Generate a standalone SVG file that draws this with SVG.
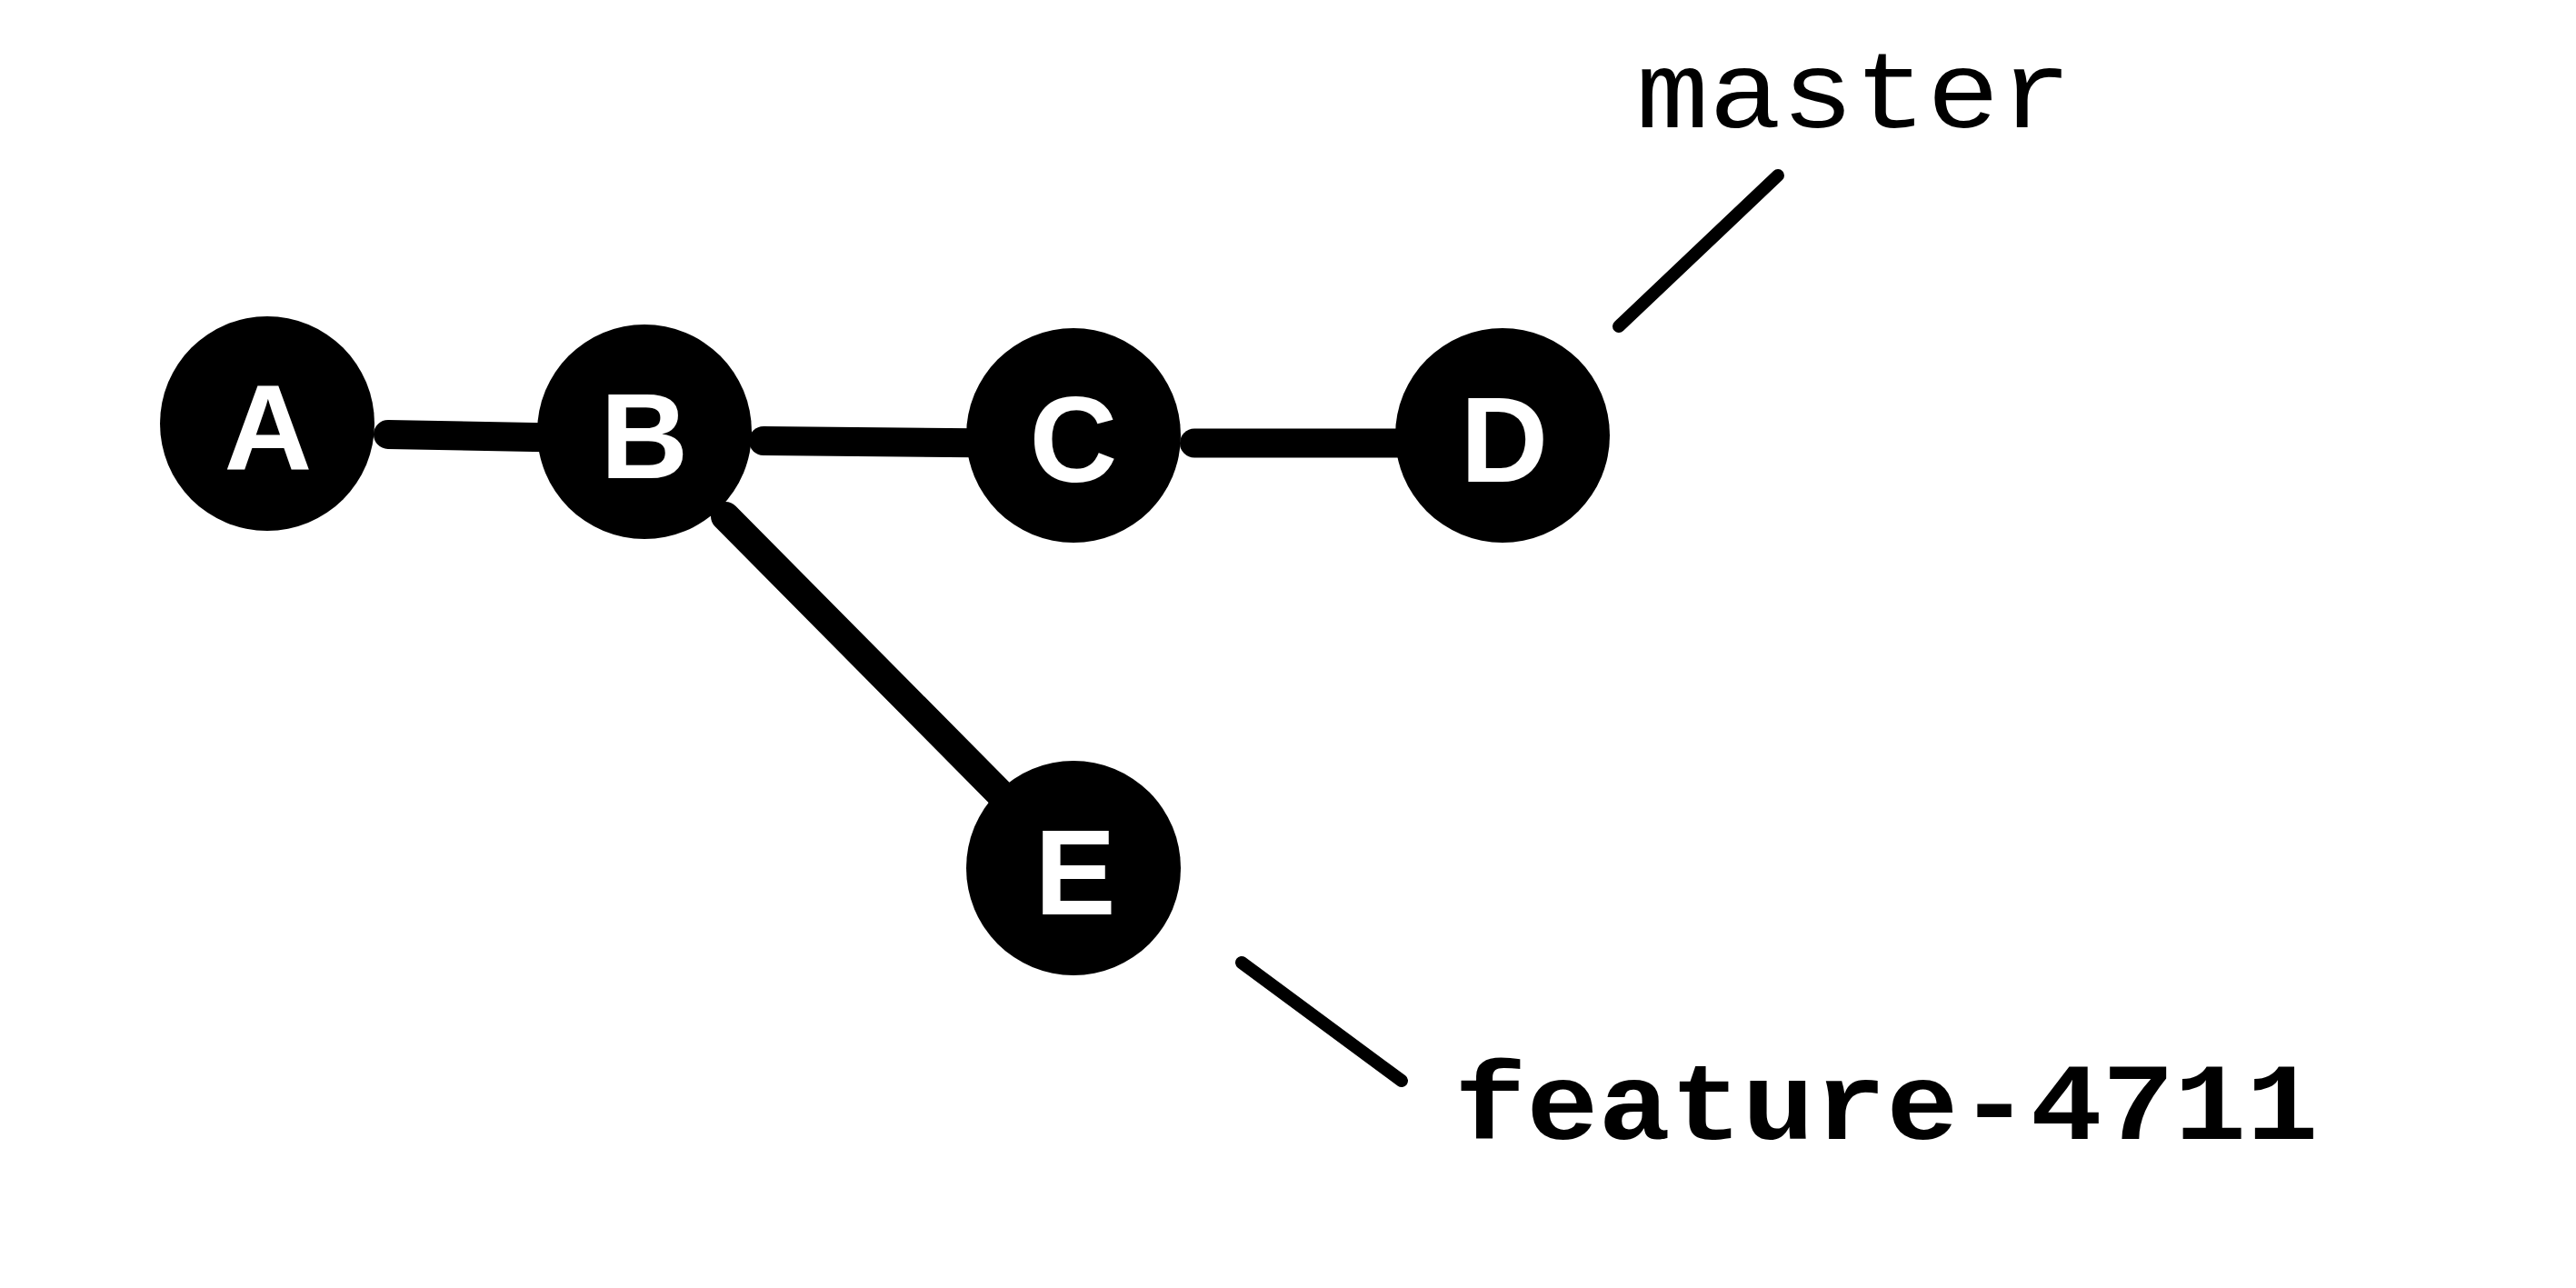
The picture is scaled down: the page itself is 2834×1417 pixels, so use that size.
<svg xmlns="http://www.w3.org/2000/svg" width="2834" height="1417" viewBox="0 0 2834 1417">
  <style>
    .edge { stroke: #000; stroke-width: 32; stroke-linecap: round; fill: none; }
    .ref { stroke: #000; stroke-width: 14; stroke-linecap: round; fill: none; }
    .commit circle { fill: #000; }
    .commit text { fill: #fff; font-family: "Liberation Sans", Arial, sans-serif; font-weight: bold; font-size: 134px; text-anchor: middle; }
    .label { fill: #000; font-family: "Courier New", Courier, "Liberation Mono", monospace; font-size: 120px; }
  </style>
  <rect width="2834" height="1417" fill="#fff"/>

  <!-- history edges, drawn beneath the commit circles -->
  <g id="connectors">
    <line class="edge" x1="427" y1="478" x2="640" y2="482"/>
    <line class="edge" x1="840" y1="485" x2="1100" y2="487.5"/>
    <line class="edge" x1="1314" y1="487.5" x2="1560" y2="487.5"/>
    <line class="edge" x1="798" y1="568" x2="1110" y2="883"/>
    <line class="ref" x1="1781" y1="359" x2="1956" y2="193"/>
    <line class="ref" x1="1366" y1="1059" x2="1542" y2="1189"/>
  </g>

  <g id="commit-A" class="commit">
    <circle cx="294" cy="466" r="118"/>
    <text x="295" y="517">A</text>
  </g>
  <g id="commit-B" class="commit">
    <circle cx="709" cy="475" r="118"/>
    <text x="709" y="526">B</text>
  </g>
  <g id="commit-C" class="commit">
    <circle cx="1181" cy="479" r="118"/>
    <text x="1181" y="530">C</text>
  </g>
  <g id="commit-D" class="commit">
    <circle cx="1653" cy="479" r="118"/>
    <text x="1655" y="530">D</text>
  </g>
  <g id="commit-E" class="commit">
    <circle cx="1181" cy="955" r="118"/>
    <text x="1183" y="1006">E</text>
  </g>

  <!-- branch labels: monospace, widened to a Courier-like cell -->
  <g id="branch-master">
    <text class="label" transform="translate(1800 140) scale(1.11 1)">master</text>
  </g>
  <g id="branch-feature-4711">
    <text class="label" transform="translate(1600 1253) scale(1.1 1)" font-weight="bold">feature-4711</text>
  </g>
</svg>
